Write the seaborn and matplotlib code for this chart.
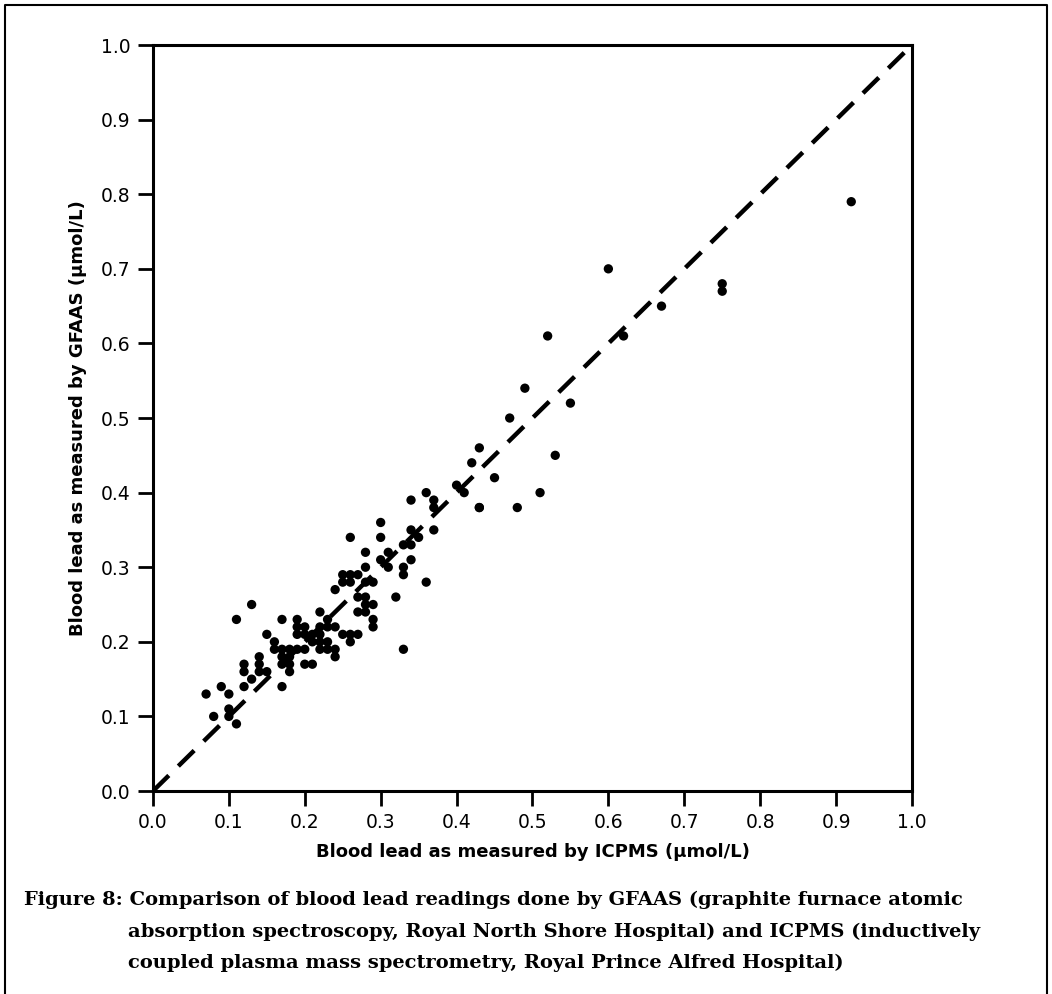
import matplotlib
matplotlib.use("Agg")
import matplotlib.pyplot as plt
import seaborn as sns
import pandas as pd
from matplotlib.lines import Line2D

# readings (umol/L): ICPMS on x, GFAAS on y
icpms = [0.07, 0.09, 0.10, 0.08, 0.10, 0.10, 0.11,
         0.11, 0.13, 0.12, 0.12, 0.12, 0.13, 0.14, 0.14, 0.14, 0.15, 0.15, 0.16, 0.17,
         0.17, 0.18, 0.18, 0.17, 0.18, 0.17, 0.17, 0.19, 0.19, 0.19, 0.20, 0.20, 0.19,
         0.20, 0.20, 0.21, 0.21, 0.21, 0.22, 0.22, 0.22, 0.22, 0.23, 0.23, 0.23, 0.23,
         0.24, 0.24, 0.25, 0.26, 0.27, 0.26, 0.24, 0.22, 0.16, 0.18,
         0.24, 0.25, 0.26, 0.27, 0.25, 0.26, 0.27, 0.28, 0.28, 0.29, 0.27, 0.28, 0.29,
         0.29, 0.28, 0.28, 0.29, 0.30, 0.31, 0.33, 0.33, 0.32, 0.33, 0.36, 0.28, 0.31,
         0.33, 0.34, 0.34, 0.26, 0.30, 0.30, 0.34, 0.35, 0.37,
         0.36, 0.34, 0.37, 0.37, 0.40, 0.41, 0.43, 0.42, 0.45, 0.43, 0.48, 0.51, 0.43,
         0.47, 0.53, 0.49, 0.55, 0.52, 0.62, 0.67, 0.75, 0.75, 0.60, 0.92]
gfaas = [0.13, 0.14, 0.13, 0.10, 0.11, 0.10, 0.09,
         0.23, 0.25, 0.17, 0.16, 0.14, 0.15, 0.18, 0.17, 0.16, 0.16, 0.21, 0.20, 0.19,
         0.18, 0.18, 0.17, 0.17, 0.16, 0.14, 0.23, 0.23, 0.22, 0.21, 0.22, 0.21, 0.19,
         0.19, 0.17, 0.17, 0.20, 0.21, 0.24, 0.22, 0.21, 0.20, 0.23, 0.22, 0.20, 0.19,
         0.19, 0.22, 0.21, 0.21, 0.21, 0.20, 0.18, 0.19, 0.19, 0.19,
         0.27, 0.29, 0.29, 0.29, 0.28, 0.28, 0.26, 0.26, 0.25, 0.25, 0.24, 0.24, 0.23,
         0.22, 0.30, 0.28, 0.28, 0.31, 0.30, 0.30, 0.29, 0.26, 0.19, 0.28, 0.32, 0.32,
         0.33, 0.33, 0.31, 0.34, 0.34, 0.36, 0.35, 0.34, 0.35,
         0.40, 0.39, 0.39, 0.38, 0.41, 0.40, 0.38, 0.44, 0.42, 0.46, 0.38, 0.40, 0.38,
         0.50, 0.45, 0.54, 0.52, 0.61, 0.61, 0.65, 0.68, 0.67, 0.70, 0.79]
identity = [0.0, 1.0]
ticks = [0.0, 0.1, 0.2, 0.3, 0.4, 0.5, 0.6, 0.7, 0.8, 0.9, 1.0]
caption = [
    "Figure 8: Comparison of blood lead readings done by GFAAS (graphite furnace atomic",
    "absorption spectroscopy, Royal North Shore Hospital) and ICPMS (inductively",
    "coupled plasma mass spectrometry, Royal Prince Alfred Hospital)",
]

df = pd.DataFrame({"icpms": icpms, "gfaas": gfaas})

sns.set_style("ticks")
plt.rcParams["font.family"] = ["DejaVu Sans"]
plt.rcParams["text.color"] = "black"
plt.rcParams["axes.labelcolor"] = "black"

fig = plt.figure(figsize=(10.52, 9.94), dpi=100)
ax = fig.add_axes([0.1454, 0.2042, 0.7215, 0.7505])

ax.plot(identity, identity, color="black", lw=3.2, ls=(0, (5, 3)), zorder=1)
sns.scatterplot(data=df, x="icpms", y="gfaas", ax=ax, color="black",
                s=45, edgecolor="none", zorder=2)

ax.set_xlim(0, 1)
ax.set_ylim(0, 1)
ax.set_xticks(ticks)
ax.set_yticks(ticks)
ax.set_xticklabels([f"{t:.1f}" for t in ticks], fontsize=13.5)
ax.set_yticklabels([f"{t:.1f}" for t in ticks], fontsize=13.5)
ax.tick_params(direction="out", length=11, width=2, colors="black", pad=5)
for sp in ax.spines.values():
    sp.set_visible(True)
    sp.set_linewidth(2.2)
    sp.set_color("black")

ax.set_xlabel("Blood lead as measured by ICPMS (\u00b5mol/L)", fontsize=13,
              fontweight="bold", labelpad=8, color="black")
ax.set_ylabel("Blood lead as measured by GFAAS (\u00b5mol/L)", fontsize=13,
              fontweight="bold", labelpad=10, color="black")

cap = dict(family=["DejaVu Serif"], fontweight="bold", color="black",
           fontsize=14, va="center", ha="left")
fig.text(24 / 1052, 1 - 900 / 994, caption[0], **cap)
fig.text(128 / 1052, 1 - 932 / 994, caption[1], **cap)
fig.text(128 / 1052, 1 - 963 / 994, caption[2], **cap)

# page frame (open at the bottom)
frame_x = [5 / 1052, 5 / 1052, 1047 / 1052, 1047 / 1052]
frame_y = [0.0, 1 - 5 / 994, 1 - 5 / 994, 0.0]
fig.add_artist(Line2D(frame_x, frame_y, transform=fig.transFigure,
                      color="black", lw=1.5))

fig.savefig("out.png", dpi=100)
